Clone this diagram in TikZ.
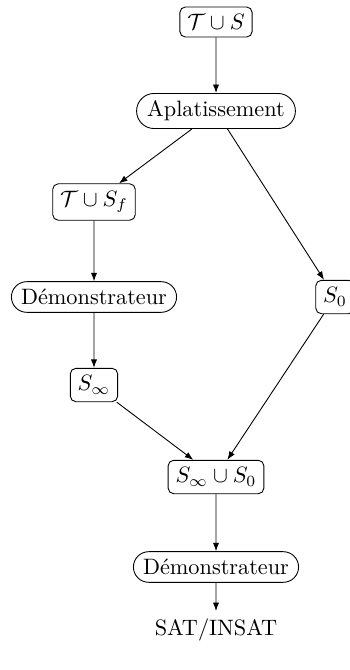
\documentclass[tikz,border=0pt]{standalone}
\usetikzlibrary{shapes.misc,arrows.meta}
\begin{document}
\begin{tikzpicture}[x=0.449pt,y=-0.449pt,
  boxnode/.style={draw,rounded corners=2.5pt,inner sep=3.33pt},
  procnode/.style={draw,rounded rectangle,inner sep=3.33pt},
  arr/.style={-{Latex[length=3.8pt,width=2.8pt]},line width=0.4pt}]
\clip (0,0) rectangle (350,670);
\useasboundingbox (0,0) rectangle (350,670);
\node[boxnode] (ts) at (216,22) {$\mathcal{T}\cup S$};
\node[procnode] (apl) at (216,111) {Aplatissement};
\node[boxnode] (tsf) at (94,202) {$\mathcal{T}\cup S_f$};
\node[procnode] (dem1) at (94,297) {Démonstrateur};
\node[boxnode] (s0) at (335,297) {$S_0$};
\node[boxnode] (sinf) at (94,385) {$S_\infty$};
\node[boxnode] (u) at (216,477) {$S_\infty\cup S_0$};
\node[procnode] (dem2) at (216,567) {Démonstrateur};
\node (sat) at (216,630) {$\mathrm{SAT}/\mathrm{INSAT}$};
\draw[arr] (ts) -- (apl);
\draw[arr] (apl) -- (tsf);
\draw[arr] (apl) -- (s0);
\draw[arr] (tsf) -- (dem1);
\draw[arr] (dem1) -- (sinf);
\draw[arr] (sinf) -- (u);
\draw[arr] (s0) -- (u);
\draw[arr] (u) -- (dem2);
\draw[arr] (dem2) -- (sat);
\end{tikzpicture}
\end{document}
